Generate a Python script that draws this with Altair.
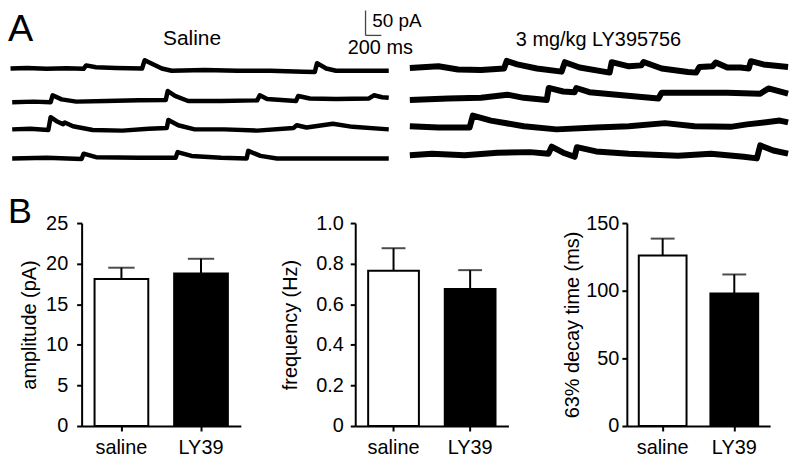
import altair as alt
import pandas as pd

FONT = "Liberation Sans"

# ---------------- Panel A: example sweeps (time in ms, current in pA relative to sweep baseline)
saline_t = [
    [0, 208, 458, 708, 925, 958, 1083, 1333, 1666, 1699, 1791, 1916, 2041, 2457, 2874, 3290, 3707, 3853, 3882, 3998, 4123, 4457, 4790],
    [21, 292, 508, 533, 646, 833, 1208, 1624, 1966, 1991, 2083, 2249, 2666, 3124, 3157, 3249, 3615, 3644, 3790, 4123, 4540, 4602, 4707, 4790],
    [21, 250, 479, 508, 583, 666, 687, 791, 1041, 1416, 1749, 1978, 1999, 2124, 2332, 2707, 3124, 3582, 3624, 3749, 4082, 4332, 4790],
    [21, 458, 900, 925, 1083, 1624, 2091, 2116, 2291, 2666, 2990, 3011, 3165, 3374, 4123, 4790],
]
saline_pA = [
    [0, 1.2, -0.6, 0.6, -0.6, 6.2, 2.5, 1.2, 0, 16.5, 9.4, 0, -4.4, -3.1, -4.4, -4.4, -6.2, -6.9, 10.6, 0, -4.4, -4.4, -4.4],
    [-1.2, 0, -1.2, 12.5, 4.4, 0, 1.2, 2.5, 3.1, 21.0, 11.2, 1.2, 1.2, 2.5, 12.5, 5, 1.2, 11.2, 6.2, 5, 6.2, 12.5, 8.7, 7.5],
    [0, 1.2, -1.2, 24.0, 16.2, 10, 13.7, 6.2, -1.2, -2.5, 1.2, 2.5, 18.5, 8.1, 0, 0, -2.5, 2.5, 8.1, 3.7, 11.2, 5, 0],
    [0, 1.2, -1.2, 9.4, 2.5, 1.2, 1.2, 12.5, 5, 1.2, 0, 15.0, 5, 0, 0, 0],
]
ly_t = [
    [0, 362, 611, 902, 1193, 1227, 1360, 1609, 1921, 1963, 2150, 2530, 2557, 2773, 2931, 2961, 3189, 3522, 3626, 3667, 3834, 3875, 4021, 4187, 4291, 4320, 4478, 4790],
    [0, 486, 902, 1235, 1443, 1734, 1759, 1942, 2087, 2108, 2274, 2690, 3148, 3189, 3605, 4021, 4437, 4541, 4790],
    [0, 362, 757, 798, 1027, 1443, 1859, 2358, 2773, 3231, 3605, 4062, 4270, 4686, 4790],
    [0, 279, 694, 1110, 1526, 1755, 1796, 1942, 2087, 2116, 2358, 2773, 3397, 3813, 4229, 4395, 4437, 4603, 4790],
]
ly_pA = [
    [1.2, 4.4, -1.9, -3.1, 0, 15.0, 8.1, 0, -6.2, 12.5, 1.9, -8.1, 12.5, 4.4, 6.2, 13.0, 0, -6.9, -8.1, 3.1, 4.4, 11.9, 1.9, 1.9, 0, 14.5, 8.1, 3.1],
    [-1.9, 1.2, 2.5, 8.7, 2.5, -1.9, 22.0, 15, 13.7, 22.0, 13.7, 7.5, 1.2, 12.5, 12.5, 12.5, 10.6, 21.0, 10.6],
    [0, -2.5, -2.5, 21.0, 11.2, 0, -6.2, -2.5, 0, 6.2, 0, -1.2, 3.7, 11.2, 7.5],
    [0, 3.1, 0, 5, 6.2, 3.1, 17.0, 5, -3.1, 16.0, 7.5, 3.1, -1.2, 3.1, -3.1, -6.2, 19.5, 9.4, 3.1],
]
scale_bar_ms = 200
scale_bar_pA = 50

# ---------------- Panel B: group means and SEM
groups = ["saline", "LY39"]
amp_mean = [18.1, 18.8]
amp_sem = [1.4, 1.8]
freq_mean = [0.765, 0.675]
freq_sem = [0.111, 0.093]
decay_mean = [126.0, 98.0]
decay_sem = [12.5, 14.0]

# ---------------- layout constants
W_TOP, H_TOP = 784, 214
MS_PER_PX = 12.6
X0_MS = -32
PA_PER_PX = 50 / 25.4
SAL_ROW_Y = [-115.5, -181.0, -235.9, -293.4]
LY_ROW_Y = [-115.5, -176.0, -229.7, -287.1]
LY_START = 5057
H_BAR = 204

sal_recs, ly_recs = [], []
for k in range(4):
    for t, v in zip(saline_t[k], saline_pA[k]):
        sal_recs.append({"trace": f"s{k}", "t": t, "x": t, "y": v + SAL_ROW_Y[k]})
    for t, v in zip(ly_t[k], ly_pA[k]):
        ly_recs.append({"trace": f"l{k}", "t": t, "x": t + LY_START, "y": v + LY_ROW_Y[k]})

xs = alt.Scale(domain=[X0_MS, X0_MS + W_TOP * MS_PER_PX], nice=False, zero=False)
ys = alt.Scale(domain=[-H_TOP * PA_PER_PX, 0], nice=False, zero=False)


def trace_layer(recs, width):
    return alt.Chart(pd.DataFrame(recs)).mark_line(color="black", strokeWidth=width, strokeJoin="round").encode(
        x=alt.X("x:Q", scale=xs, axis=None),
        y=alt.Y("y:Q", scale=ys, axis=None),
        detail="trace:N",
        order="t:Q",
    )


SB_X = 4496
sb_df = pd.DataFrame({
    "x": [SB_X, SB_X], "x2": [SB_X, SB_X + scale_bar_ms],
    "y": [-scale_bar_pA, -scale_bar_pA], "y2": [-0.8, -scale_bar_pA],
})
scalebar = alt.Chart(sb_df).mark_rule(color="#444444", strokeWidth=1.3).encode(
    x=alt.X("x:Q", scale=xs, axis=None), x2="x2:Q",
    y=alt.Y("y:Q", scale=ys, axis=None), y2="y2:Q",
)


def label(txt, x, y, size, align="left"):
    return alt.Chart(pd.DataFrame({"s": [txt]})).mark_text(
        fontSize=size, align=align, baseline="alphabetic", color="black", font=FONT
    ).encode(text="s:N", x=alt.value(x), y=alt.value(y))


top = alt.layer(
    trace_layer(sal_recs, 4.5), trace_layer(ly_recs, 6), scalebar,
    label("A", 0, 31, 38),
    label("Saline", 185, 34.9, 21, "center"),
    label("3 mg/kg LY395756", 593.5, 36.4, 20, "center"),
    label("50 pA", 366, 17.4, 19),
    label("200 ms", 341.5, 44.4, 20),
).properties(width=W_TOP, height=H_TOP)


def bar_panel(means, sems, ymax, ticks, title, width, bar_size, cap_size, title_x, label_pad, label_expr=""):
    df = pd.DataFrame({"group": groups, "mean": means, "sem": sems})
    df["hi"] = df["mean"] + df["sem"]
    xaxis = alt.Axis(title=None, labelAngle=0, labelFont=FONT, labelFontSize=20, labelColor="black",
                     labelPadding=7, tickSize=5, tickWidth=2, tickColor="black",
                     domainColor="black", domainWidth=2, grid=False)
    ykw = dict(title=title, values=ticks, grid=False, labelOverlap=False, labelFont=FONT, labelFontSize=20,
               labelColor="black", labelPadding=label_pad, tickSize=5, tickWidth=2, tickColor="black",
               domainColor="black", domainWidth=2, titleFont=FONT, titleFontSize=20,
               titleFontWeight="normal", titleColor="black", titleX=title_x, titleY=H_BAR / 2,
               titleAngle=270, titleAlign="center", titleBaseline="middle")
    if label_expr:
        ykw["labelExpr"] = label_expr
    xenc = alt.X("group:N", sort=groups, scale=alt.Scale(paddingInner=0, paddingOuter=0), axis=xaxis)
    yscale = alt.Scale(domain=[0, ymax], nice=False)
    base = alt.Chart(df)
    bars = base.mark_bar(size=bar_size, stroke="black", strokeWidth=2).encode(
        x=xenc,
        y=alt.Y("mean:Q", scale=yscale, axis=alt.Axis(**ykw)),
        fill=alt.Fill("group:N", scale=alt.Scale(domain=groups, range=["white", "black"]), legend=None),
    )
    whisk = base.mark_rule(color="black", strokeWidth=2).encode(
        x=alt.X("group:N", sort=groups), y="mean:Q", y2="hi:Q")
    cap = base.mark_tick(color="black", thickness=2, size=cap_size, orient="horizontal").encode(
        x=alt.X("group:N", sort=groups), y="hi:Q")
    return alt.layer(bars, whisk, cap).properties(width=width, height=H_BAR)


def spacer(w, txt=""):
    return alt.Chart(pd.DataFrame({"s": [txt]})).mark_text(
        fontSize=36, align="left", baseline="alphabetic", color="black", font=FONT
    ).encode(text="s:N", x=alt.value(0), y=alt.value(0)).properties(width=w, height=H_BAR)


b1 = bar_panel(amp_mean, amp_sem, 25, [0, 5, 10, 15, 20, 25], "amplitude (pA)", 160, 54, 26.5, -52.5, 9)
b2 = bar_panel(freq_mean, freq_sem, 1.0, [0, 0.2, 0.4, 0.6, 0.8, 1.0], "frequency (Hz)", 154, 51, 24, -65, 7,
               "datum.value == 0 ? '0' : format(datum.value, '.1f')")
b3 = bar_panel(decay_mean, decay_sem, 150, [0, 50, 100, 150], "63% decay time (ms)", 144, 48, 24, -55, 3)

bottom = alt.hconcat(spacer(74, "B"), b1, spacer(115), b2, spacer(119), b3, spacing=0, bounds="flush")

chart = alt.vconcat(top, bottom, spacing=0, bounds="flush").properties(
    padding={"left": 0, "top": 0, "right": 0, "bottom": 0}
).configure(font=FONT).configure_view(stroke="transparent", strokeWidth=0)

chart.save("out.html", embed_options={"renderer": "svg", "actions": False})
